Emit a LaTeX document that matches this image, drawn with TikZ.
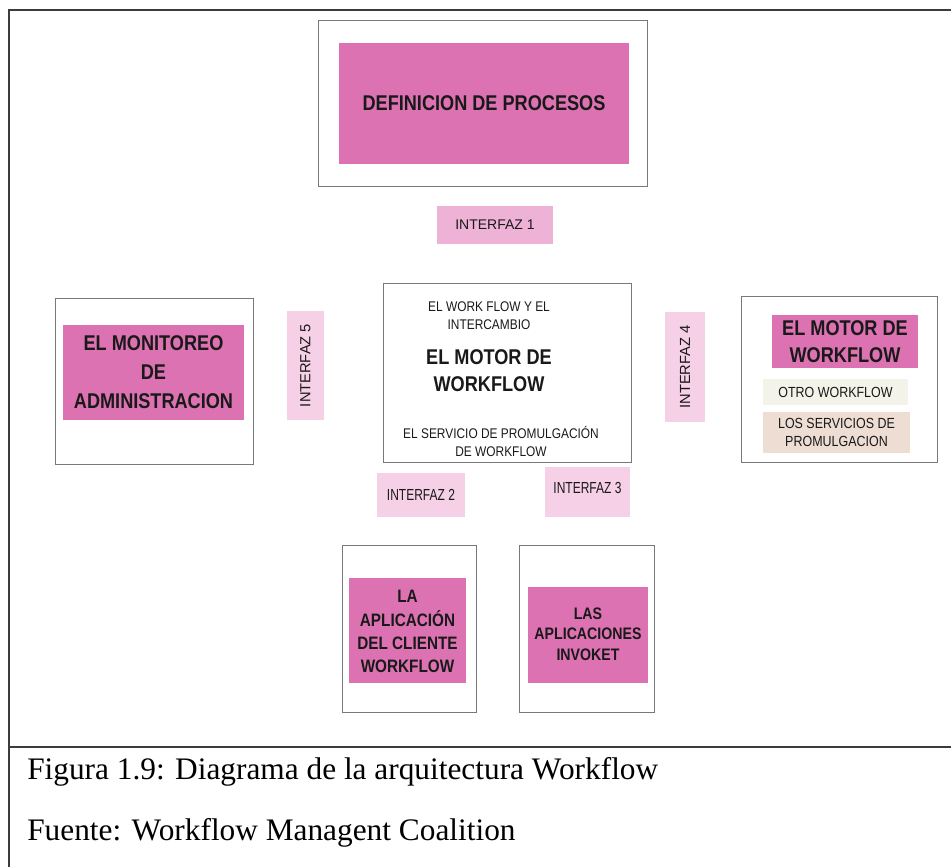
\documentclass[tikz,border=0pt]{standalone}
\usepackage{fontspec}
\setmainfont{Liberation Serif}
\newfontfamily\nsans[FakeStretch=0.85]{Liberation Sans}
\newfontfamily\vnsans[FakeStretch=0.75]{Liberation Sans}
\newfontfamily\plainsans{Liberation Sans}
\usetikzlibrary{fit}

\definecolor{framegray}{RGB}{60,60,60}
\definecolor{boxgray}{RGB}{120,120,120}
\definecolor{rosa}{RGB}{221,114,178}
\definecolor{rosaI}{RGB}{238,178,214}
\definecolor{rosaII}{RGB}{246,208,230}
\definecolor{crema}{RGB}{244,243,233}
\definecolor{beige}{RGB}{238,221,211}

\tikzset{
  outerbox/.style={draw=boxgray, line width=0.7pt, inner sep=0pt},
  pinkbox/.style={fill=rosa, inner sep=0pt},
  ifbox/.style={fill=rosaII, inner sep=0pt},
  txt/.style={inner sep=0pt, align=center, text=black!90},
  fsz/.style 2 args={font=\nsans\fontsize{#1}{#2}\selectfont},
  fszb/.style 2 args={font=\nsans\bfseries\fontsize{#1}{#2}\selectfont},
  captxt/.style={anchor=base west, inner sep=0pt, font=\fontsize{23.5pt}{26pt}\selectfont},
}

\begin{document}
\begin{tikzpicture}[x=0.75pt, y=-0.75pt]
\useasboundingbox (0,0) rectangle (951,867);

% outer frame and caption separator
\coordinate (ftl) at (9,10);
\coordinate (ftr) at (951,10);
\coordinate (fbl) at (9,867);
\coordinate (csl) at (9,747);
\coordinate (csr) at (951,747);
\draw[framegray, line width=1.2pt] (ftr) -- (ftl) -- (fbl);
\draw[framegray, line width=1.0pt] (csl) -- (csr);

% process definition (top)
\node[outerbox, fit={(318,20) (647,186)}] (topbox) {};
\node[pinkbox, fit={(339,43) (629,164)}] (defp) {};
\node[txt, fszb={16pt}{20pt}] (defpt) at (defp.center) {DEFINICION DE PROCESOS};

% interface 1
\node[ifbox, fill=rosaI, fit={(437,206) (553,244)}] (if1) {};
\node[txt, font=\plainsans\fontsize{10.5pt}{12pt}\selectfont] (if1t) at (if1.center) {INTERFAZ 1};

% administration and monitoring (left)
\node[outerbox, fit={(55,298) (253,464)}] (leftbox) {};
\node[pinkbox, fit={(63,325) (244,420)}] (mon) {};
\node[txt, fszb={16pt}{21.75pt}] (mont) at (mon.center) {EL MONITOREO\\DE\\ADMINISTRACION};

% interface 5
\node[ifbox, fit={(287,311) (324,420)}] (if5) {};
\node[txt, rotate=90, font=\plainsans\fontsize{11pt}{12pt}\selectfont] (if5t) at (if5.center) {INTERFAZ 5};

% workflow engine (centre)
\node[outerbox, fit={(383,283) (631,462)}] (centerbox) {};
\node[txt, fsz={10.5pt}{13.5pt}] (c1) at (489,316) {EL WORK FLOW Y EL\\INTERCAMBIO};
\node[txt, fszb={16pt}{20.25pt}] (c2) at (489,371) {EL MOTOR DE\\WORKFLOW};
\node[txt, fsz={10.5pt}{13.5pt}] (c3) at (501,441) {EL SERVICIO DE PROMULGACIÓN\\DE WORKFLOW};

% interface 4
\node[ifbox, fit={(665,312) (705,422)}] (if4) {};
\node[txt, rotate=90, font=\plainsans\fontsize{11pt}{12pt}\selectfont] (if4t) at (if4.center) {INTERFAZ 4};

% other workflow engine (right)
\node[outerbox, fit={(741,296) (937,462)}] (rightbox) {};
\node[pinkbox, fit={(772,315) (918,368)}] (mot2) {};
\node[txt, fszb={16pt}{20.25pt}] (mot2t) at (mot2.center) {EL MOTOR DE\\WORKFLOW};
\node[pinkbox, fill=crema, fit={(763,379) (908,405)}] (otro) {};
\node[txt, fsz={11pt}{13pt}] (otrot) at (otro.center) {OTRO WORKFLOW};
\node[pinkbox, fill=beige, fit={(763,412) (910,453)}] (serv) {};
\node[txt, fsz={11pt}{14pt}] (servt) at (serv.center) {LOS SERVICIOS DE\\PROMULGACION};

% interfaces 2 and 3
\node[ifbox, fit={(377,473) (465,517)}] (if2) {};
\node[txt, font=\vnsans\fontsize{12pt}{14pt}\selectfont] (if2t) at (if2.center) {INTERFAZ 2};
\node[ifbox, fit={(545,467) (630,517)}] (if3) {};
\node[txt, font=\vnsans\fontsize{12pt}{14pt}\selectfont] (if3t) at ([yshift=3pt]if3.center) {INTERFAZ 3};

% client applications and invoked applications (bottom)
\node[outerbox, fit={(342,545) (476,712)}] (blbox) {};
\node[pinkbox, fit={(349,578) (466,683)}] (cli) {};
\node[txt, fszb={13.5pt}{17.5pt}] (clit) at ([yshift=-1pt]cli.center) {LA\\APLICACIÓN\\DEL CLIENTE\\WORKFLOW};
\node[outerbox, fit={(519,545) (654,712)}] (brbox) {};
\node[pinkbox, fit={(528,587) (648,683)}] (inv) {};
\node[txt, fszb={12.5pt}{15.5pt}] (invt) at (588,634) {LAS\\APLICACIONES\\INVOKET};

% caption
\node[captxt] (cap1) at (27,779) {Figura 1.9: Diagrama de la arquitectura Workflow};
\node[captxt] (cap2) at (27,840) {Fuente: Workflow Managent Coalition};
\end{tikzpicture}
\end{document}
